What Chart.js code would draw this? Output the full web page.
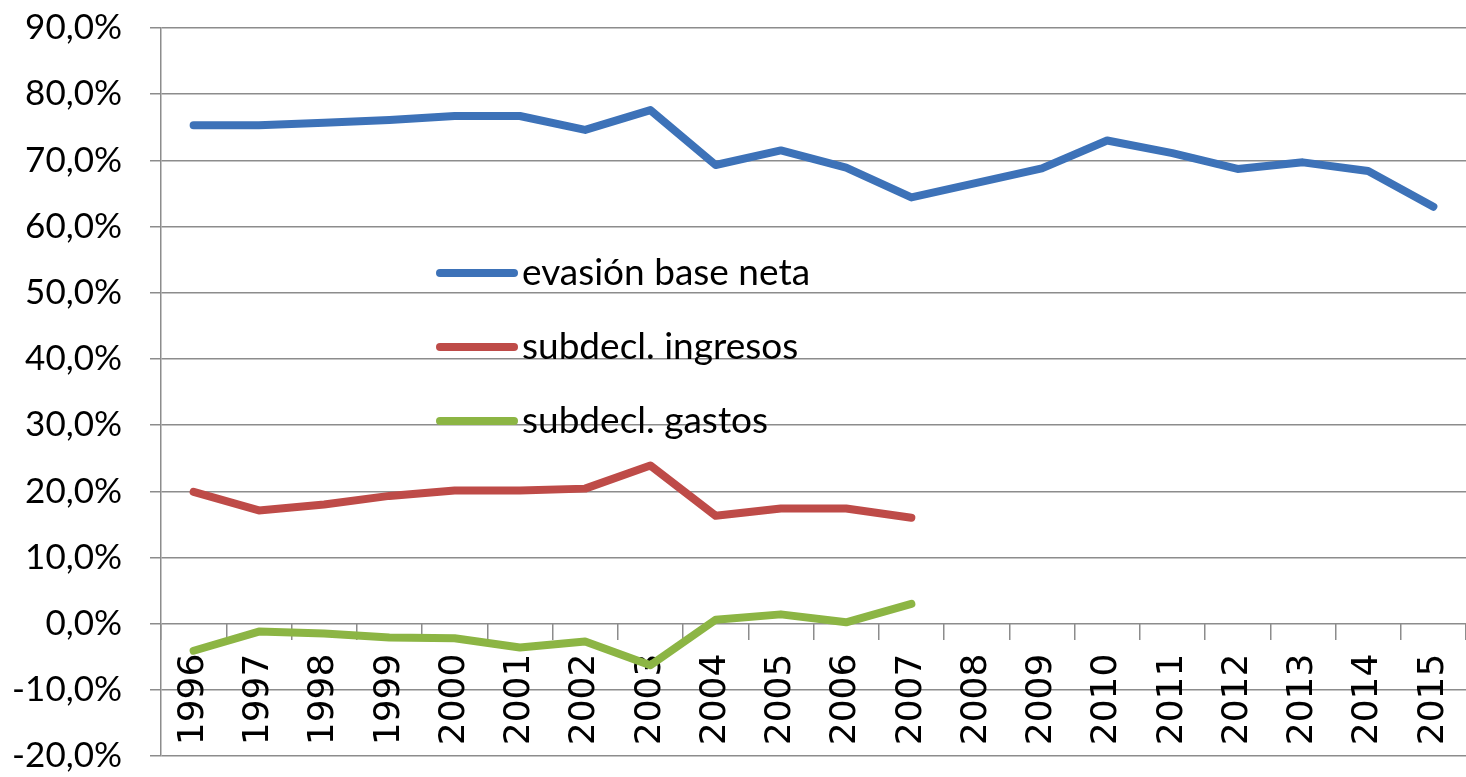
<!DOCTYPE html>
<html lang="es">
<head>
<meta charset="UTF-8">
<title>Evasión base neta y subdeclaración</title>
<script src="https://cdn.jsdelivr.net/npm/chart.js"></script>
<style>
  html, body { margin: 0; padding: 0; background: #ffffff; overflow: hidden; }
  .chart-box { position: relative; width: 1466px; height: 777px; }
</style>
</head>
<body>
<div class="chart-box"><canvas id="grafico"></canvas></div>
<script>
// Datos (en %)
const anios = ['1996','1997','1998','1999','2000','2001','2002','2003','2004','2005',
               '2006','2007','2008','2009','2010','2011','2012','2013','2014','2015'];

const evasionBaseNeta = [75.3, 75.3, 75.7, 76.1, 76.7, 76.7, 74.6, 77.6, 69.3, 71.5,
                         68.9, 64.4, 66.6, 68.8, 73.0, 71.1, 68.7, 69.7, 68.4, 63.0];

const subdeclIngresos = [19.9, 17.1, 18.0, 19.3, 20.1, 20.1, 20.4, 23.9, 16.3, 17.4,
                         17.4, 16.0];

const subdeclGastos = [-4.1, -1.2, -1.5, -2.1, -2.2, -3.6, -2.7, -6.3, 0.6, 1.4,
                       0.2, 3.0];

const nombresSeries = ['evasión base neta', 'subdecl. ingresos', 'subdecl. gastos'];
const colores = ['#3d72b8', '#be4b48', '#8cb544'];

const gris = '#8c8c8c';

// leyenda dibujada dentro del área del gráfico
const leyendaInterna = {
  id: 'leyendaInterna',
  afterDatasetsDraw(chart) {
    const ctx = chart.ctx;
    ctx.save();
    chart.data.datasets.forEach((ds, i) => {
      const y = 273 + i * 74;
      ctx.strokeStyle = ds.borderColor;
      ctx.lineWidth = 8;
      ctx.lineCap = 'round';
      ctx.beginPath();
      ctx.moveTo(440, y);
      ctx.lineTo(514, y);
      ctx.stroke();
      ctx.fillStyle = '#000';
      ctx.font = '37px Lato, sans-serif';
      ctx.textBaseline = 'middle';
      ctx.fillText(ds.label, 522, y);
    });
    ctx.restore();
  }
};

const serie = (i, datos) => ({
  label: nombresSeries[i],
  data: datos,
  borderColor: colores[i],
  backgroundColor: colores[i],
  borderWidth: 8,
  pointRadius: 0,
  tension: 0,
  borderCapStyle: 'round',
  borderJoinStyle: 'round'
});

new Chart(document.getElementById('grafico'), {
  type: 'line',
  data: {
    labels: anios,
    datasets: [
      serie(0, evasionBaseNeta),
      serie(1, subdeclIngresos),
      serie(2, subdeclGastos)
    ]
  },
  options: {
    responsive: true,
    maintainAspectRatio: false,
    animation: false,
    layout: { padding: { top: 28, right: 0, bottom: 21, left: 0 } },
    plugins: {
      legend: { display: false },
      tooltip: { enabled: false }
    },
    scales: {
      x: {
        position: { y: 0 },
        offset: true,
        grid: {
          offset: true,
          drawOnChartArea: false,
          drawTicks: true,
          tickLength: 16,
          color: gris,
          lineWidth: 1.5
        },
        border: { display: false },
        ticks: {
          autoSkip: false,
          minRotation: 90,
          maxRotation: 90,
          padding: 14,
          color: '#000',
          font: { family: "'DejaVu Sans', sans-serif", size: 36 }
        },
        afterFit: s => { s.height = 0; s.paddingLeft = 0; s.paddingRight = 0; }
      },
      y: {
        min: -20,
        max: 90,
        grid: { color: gris, lineWidth: 1.5, tickLength: 11 },
        border: { color: gris, width: 1.5 },
        ticks: {
          stepSize: 10,
          padding: 28,
          color: '#000',
          font: { family: 'Lato', size: 35 },
          callback: v => v.toFixed(1).replace('.', ',') + '%'
        },
        afterFit: s => { s.width = 161; s.paddingTop = 0; s.paddingBottom = 0; }
      }
    }
  },
  plugins: [leyendaInterna]
});
</script>
</body>
</html>
